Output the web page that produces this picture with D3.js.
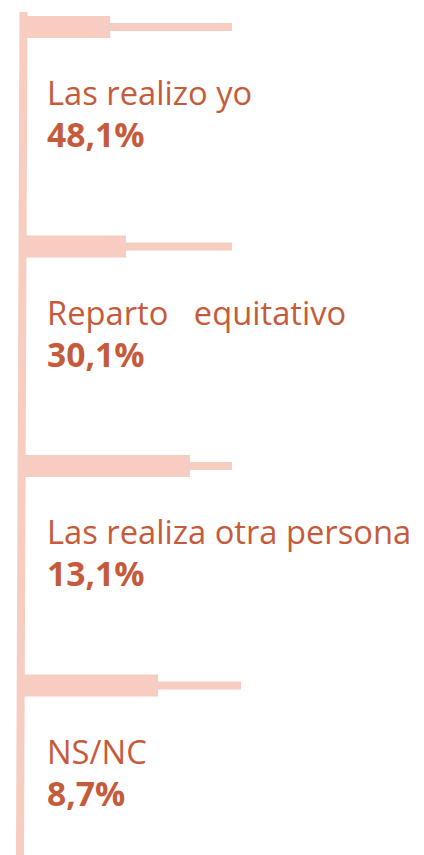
<!DOCTYPE html>
<html>
<head>
<meta charset="utf-8">
<script src="https://cdn.jsdelivr.net/npm/d3@7"></script>
<style>
	body { margin: 0; background: #fff; }
	svg { display: block; }
	text { white-space: pre; }
</style>
</head>
<body>
<div id="chart"></div>
<script>

// answers and their share
var categories = ["Las realizo yo", "Reparto   equitativo", "Las realiza otra persona", "NS/NC"];
var values = [48.1, 30.1, 13.1, 8.7];

// the thick bar and the thin track (0-100 scale of the track)
var barLevels = [42, 49.5, 80, 64.8];
var trackLevels = [100, 100, 100, 104.3];


var width = 424, height = 855;
var barColor = "#f6cdc0";
var textColor = "#c55b3b";

var svg = d3.select("#chart").append("svg")
	.attr("width", width)
	.attr("height", height);

var x = d3.scaleLinear().domain([0, 100]).range([22, 232]);
var y = d3.scalePoint().domain(categories).range([27, 685.5]);

var rows = categories.map(function(c, i){
	return {cat: c, value: values[i], bar: barLevels[i], track: trackLevels[i]};
});

// vertical spine, slightly leaning like the original
svg.append("line")
	.attr("x1", 23.5).attr("y1", 12)
	.attr("x2", 20).attr("y2", height)
	.style("stroke", barColor)
	.style("stroke-width", 8);

// thin track
svg.selectAll("rect.track")
	.data(rows)
	.enter()
	.append("rect")
	.attr("class", "track")
	.attr("x", x(0))
	.attr("y", d => y(d.cat) - 4)
	.attr("width", d => x(d.track) - x(0))
	.attr("height", 8)
	.style("fill", barColor);

// thick bar
svg.selectAll("rect.bar")
	.data(rows)
	.enter()
	.append("rect")
	.attr("class", "bar")
	.attr("x", x(0))
	.attr("y", d => y(d.cat) - 11)
	.attr("width", d => x(d.bar) - x(0))
	.attr("height", 22)
	.style("fill", barColor);

var fmt = function(v){ return d3.format(".1f")(v).replace(".", ",") + "%"; };

var labels = svg.selectAll("g.label")
	.data(rows)
	.enter()
	.append("g")
	.attr("class", "label")
	.attr("transform", d => "translate(47," + (y(d.cat) + 78) + ")");

labels.append("text")
	.attr("x", 0).attr("y", 0)
	.style("font-family", "'Open Sans', sans-serif")
	.style("font-size", "32.7px")
	.style("fill", textColor)
	.text(d => d.cat);

labels.append("text")
	.attr("x", 0).attr("y", 42)
	.style("font-family", "'Open Sans', sans-serif")
	.style("font-weight", "bold")
	.style("font-size", "33.6px")
	.style("fill", textColor)
	.text(d => fmt(d.value));

</script>
</body>
</html>
